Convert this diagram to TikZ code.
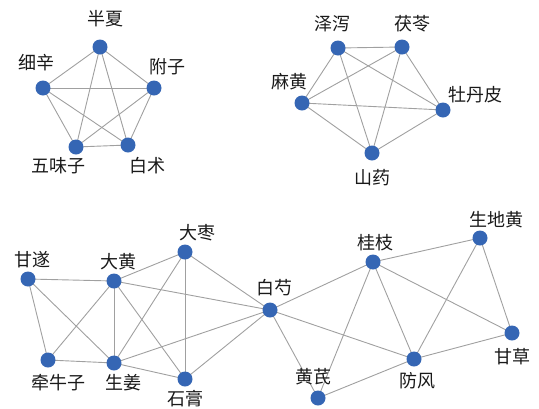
\documentclass[tikz,border=0pt]{standalone}
\usepackage{fontspec}
\newfontfamily\cjk{Noto Sans CJK SC}
\definecolor{nodeblue}{HTML}{3566B4}
\definecolor{edgegray}{HTML}{A0A0A0}
\pgfdeclarelayer{background}
\pgfsetlayers{background,main}
\begin{document}
\begin{tikzpicture}[x=1pt,y=-1pt,
  herb/.style={circle,fill=nodeblue,draw=none,minimum size=15pt,inner sep=0pt},
  lbl/.style={font=\cjk\fontsize{18}{18}\selectfont,inner sep=0pt,text=black!90},
  edge/.style={draw=edgegray,line width=0.9pt}]
\useasboundingbox (0,0) rectangle (539,408);
% top-left group
\node[herb] (bx) at (100,47) {};
\node[herb] (xx) at (43,88) {};
\node[herb] (fz) at (154,88) {};
\node[herb] (wwz) at (76,147) {};
\node[herb] (bz) at (128,145) {};
\node[lbl] at (105,19) {半夏};
\node[lbl] at (37,63) {细辛};
\node[lbl] at (167,67) {附子};
\node[lbl] at (58,166) {五味子};
\node[lbl] at (147,166) {白术};
% top-right group
\node[herb] (zx) at (338,48) {};
\node[herb] (fl) at (402,47) {};
\node[herb] (mh) at (302,103) {};
\node[herb] (mdp) at (443,110) {};
\node[herb] (sy) at (372,153) {};
\node[lbl] at (332,24) {泽泻};
\node[lbl] at (412,24) {茯苓};
\node[lbl] at (289,82) {麻黄};
\node[lbl] at (475,95) {牡丹皮};
\node[lbl] at (372,178) {山药};
% bottom-left group
\node[herb] (gs) at (28,279) {};
\node[herb] (dh) at (114,281) {};
\node[herb] (dz) at (185,252) {};
\node[herb] (bs) at (270,310) {};
\node[herb] (qnz) at (48,360) {};
\node[herb] (sj) at (114,363) {};
\node[herb] (sg) at (185,379) {};
\node[lbl] at (33,260) {甘遂};
\node[lbl] at (118,262) {大黄};
\node[lbl] at (197,233) {大枣};
\node[lbl] at (274,288) {白芍};
\node[lbl] at (58,383) {牵牛子};
\node[lbl] at (123,383) {生姜};
\node[lbl] at (185,399) {石膏};
% bottom-right group
\node[herb] (gz) at (373,262) {};
\node[herb] (sdh) at (480,238) {};
\node[herb] (gc) at (512,333) {};
\node[herb] (ff) at (414,359) {};
\node[herb] (hq) at (318,398) {};
\node[lbl] at (375,243) {桂枝};
\node[lbl] at (496,220) {生地黄};
\node[lbl] at (512,357) {甘草};
\node[lbl] at (417,381) {防风};
\node[lbl] at (313,377) {黄芪};
% edges
\begin{pgfonlayer}{background}
\foreach \a/\b in {bx/xx,bx/fz,bx/wwz,bx/bz,xx/fz,xx/wwz,xx/bz,fz/wwz,fz/bz,wwz/bz,
  zx/fl,zx/mh,zx/mdp,zx/sy,fl/mh,fl/mdp,fl/sy,mh/mdp,mh/sy,mdp/sy,
  gs/dh,gs/qnz,gs/sj,dh/qnz,dh/sj,dh/dz,dh/sg,dh/bs,dz/sj,dz/sg,dz/bs,qnz/sj,sj/sg,sj/bs,sg/bs,
  bs/gz,bs/ff,bs/hq,gz/sdh,gz/hq,gz/ff,gz/gc,sdh/ff,sdh/gc,ff/gc,hq/ff}
  \draw[edge] (\a.center) -- (\b.center);
\end{pgfonlayer}
\end{tikzpicture}
\end{document}
